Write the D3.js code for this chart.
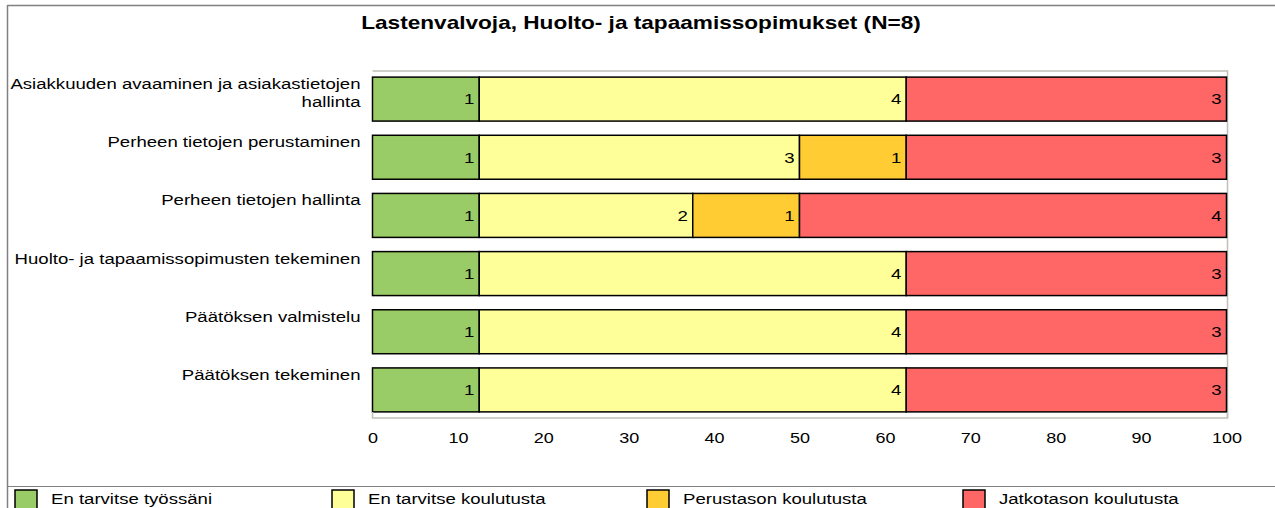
<!DOCTYPE html>
<html>
<head>
<meta charset="utf-8">
<script src="https://cdn.jsdelivr.net/npm/d3@7"></script>
<style>
  body { margin: 0; background: #fff; }
  text { font-family: "Liberation Sans", Arial, sans-serif; fill: #000; }
</style>
</head>
<body>
<script>
// chart data
var title = "Lastenvalvoja, Huolto- ja tapaamissopimukset (N=8)";
var categories = [
  ["Asiakkuuden avaaminen ja asiakastietojen", "hallinta"],
  ["Perheen tietojen perustaminen"],
  ["Perheen tietojen hallinta"],
  ["Huolto- ja tapaamissopimusten tekeminen"],
  ["Päätöksen valmistelu"],
  ["Päätöksen tekeminen"]
];
var seriesNames = ["En tarvitse työssäni", "En tarvitse koulutusta",
                   "Perustason koulutusta", "Jatkotason koulutusta"];
var seriesColors = ["#99cc66", "#ffff99", "#ffcc33", "#ff6666"];
var enTarvitseTyossani = [1, 1, 1, 1, 1, 1],
    enTarvitseKoulutusta = [4, 3, 2, 4, 4, 4],
    perustason = [0, 1, 1, 0, 0, 0],
    jatkotason = [3, 3, 4, 3, 3, 3];
var xTicks = [0, 10, 20, 30, 40, 50, 60, 70, 80, 90, 100];
var N = 8;

var W = 1275, H = 508;
var margin = {top: 71, left: 372.5, right: 48.5};
var width = W - margin.left - margin.right,
    height = 418 - margin.top;
var SX = 1.24; // the original text is drawn horizontally stretched

// moves x/y into a transform and stretches the text sideways
function stretch(sel, sx) {
    sel.each(function() {
        var t = d3.select(this);
        var tx = +t.attr("x") || 0, ty = +t.attr("y") || 0;
        t.attr("x", null).attr("y", null)
         .attr("transform", "translate(" + tx + "," + ty + ") scale(" + sx + ",1)");
    });
}

var svg = d3.select("body").append("svg")
    .attr("width", W).attr("height", H);

// outer frame lines
svg.append("line").attr("x1", 7.5).attr("x2", W).attr("y1", 5.5).attr("y2", 5.5)
    .attr("stroke", "#808080").attr("stroke-width", 1.5);
svg.append("line").attr("x1", 7.5).attr("x2", 7.5).attr("y1", 5).attr("y2", H)
    .attr("stroke", "#808080").attr("stroke-width", 1.5);
svg.append("line").attr("x1", 7.5).attr("x2", W).attr("y1", 486.5).attr("y2", 486.5)
    .attr("stroke", "#808080").attr("stroke-width", 1.2);

svg.append("text")
    .attr("x", 641).attr("y", 29)
    .attr("text-anchor", "middle")
    .attr("font-size", 19).attr("font-weight", "bold")
    .text(title)
    .call(stretch, 1.19);

var x = d3.scaleLinear().domain([0, 100]).range([0, width]);
var y = d3.scaleBand().domain(d3.range(categories.length))
    .range([0, height]).paddingInner(0.244).paddingOuter(0.105);

var g = svg.append("g")
    .attr("transform", "translate(" + margin.left + "," + margin.top + ")");

// plot frame (top / right light grey)
g.append("path")
    .attr("d", "M0,0H" + (width + 1) + "V" + height)
    .attr("fill", "none").attr("stroke", "#c0c0b8").attr("stroke-width", 1.5);

var rows = categories.map(function(c, i) {
    return [enTarvitseTyossani[i], enTarvitseKoulutusta[i], perustason[i], jatkotason[i]];
});
var stackData = [];
rows.forEach(function(r, i) {
    var acc = 0;
    r.forEach(function(v, s) {
        if (v > 0) stackData.push({row: i, s: s, v: v, x0: acc / N * 100, x1: (acc + v) / N * 100});
        acc += v;
    });
});

g.selectAll(".seg")
    .data(stackData)
    .enter().append("rect")
    .attr("class", "seg")
    .attr("x", function(d) { return x(d.x0); })
    .attr("y", function(d) { return y(d.row); })
    .attr("width", function(d) { return x(d.x1) - x(d.x0); })
    .attr("height", y.bandwidth())
    .attr("fill", function(d) { return seriesColors[d.s]; })
    .attr("stroke", "#000").attr("stroke-width", 1.5);

g.selectAll(".val")
    .data(stackData)
    .enter().append("text")
    .attr("class", "val")
    .attr("x", function(d) { return x(d.x1) - 5; })
    .attr("y", function(d) { return y(d.row) + y.bandwidth() / 2; })
    .attr("dy", "0.35em")
    .attr("text-anchor", "end")
    .attr("font-size", 15)
    .text(function(d) { return d.v; })
    .call(stretch, SX);

// category labels
var lab = g.selectAll(".cat")
    .data(categories)
    .enter().append("text")
    .attr("class", "cat")
    .attr("text-anchor", "end")
    .attr("font-size", 15)
    .attr("x", -12)
    .attr("y", function(d, i) { return y(i) + 12; });
lab.selectAll("tspan")
    .data(function(d) { return d; })
    .enter().append("tspan")
    .attr("x", 0)
    .attr("dy", function(d, j) { return j === 0 ? 0 : 18; })
    .text(function(d) { return d; });
lab.call(stretch, SX);

// x axis
var xAxis = g.append("g")
    .attr("class", "axis axis--x")
    .attr("transform", "translate(0," + height + ")")
    .call(d3.axisBottom(x).tickValues(xTicks).tickSize(0).tickPadding(14));
xAxis.select(".domain").attr("stroke", "#c0c0b8").attr("stroke-width", 1.5)
    .attr("d", "M0,-6V0H" + (width + 1) + "V-6");
xAxis.selectAll("text")
    .attr("font-size", 15)
    .attr("font-family", "Liberation Sans, Arial, sans-serif")
    .call(stretch, 1.2);

// legend
var legendX = [15, 332, 647, 963];
var leg = svg.selectAll(".legend")
    .data(seriesNames)
    .enter().append("g")
    .attr("class", "legend")
    .attr("transform", function(d, i) { return "translate(" + legendX[i] + ",490)"; });
leg.append("rect")
    .attr("width", 22).attr("height", 22)
    .attr("fill", function(d, i) { return seriesColors[i]; })
    .attr("stroke", "#000").attr("stroke-width", 1.5);
leg.append("text")
    .attr("x", 36).attr("y", 14)
    .attr("font-size", 15)
    .text(function(d) { return d; })
    .call(stretch, SX);
</script>
</body>
</html>
